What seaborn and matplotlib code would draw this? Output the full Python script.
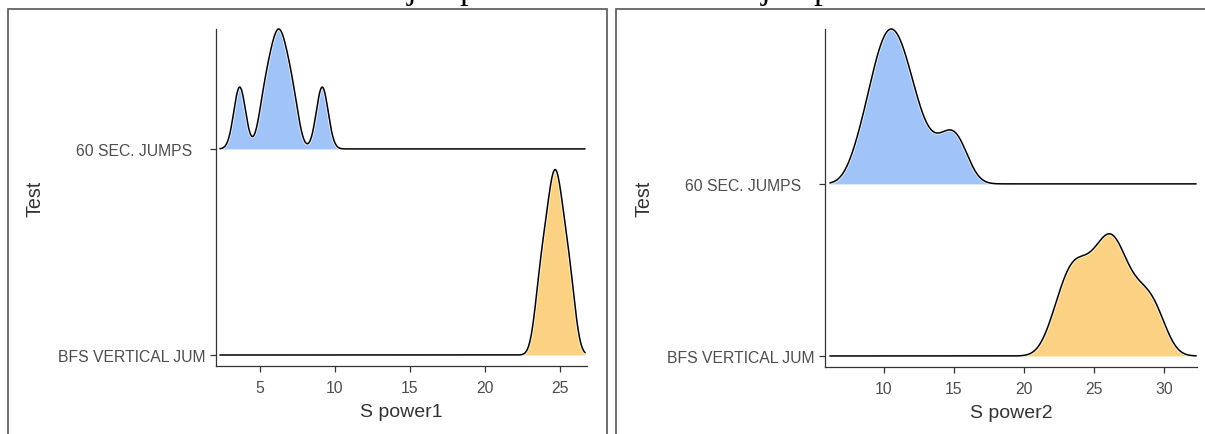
import numpy as np
import matplotlib
matplotlib.use("Agg")
import matplotlib.pyplot as plt
import seaborn as sns
from matplotlib.patches import Rectangle

# ---------------- data ----------------
categories = ["BFS VERTICAL JUM", "60 SEC. JUMPS   "]

power1_bfs = [23.62, 24.02, 24.36, 24.59, 24.76, 24.99, 25.33, 25.73]
power1_60sec = [3.55, 3.75, 5.20, 5.60, 5.90, 6.15, 6.35, 6.60, 6.90, 7.30, 9.05, 9.25]

power2_bfs = [22.07, 22.67, 23.04, 23.33, 23.60, 23.87, 24.17, 24.53, 25.13,
              24.98, 25.47, 25.76, 25.99, 26.20, 26.40, 26.61, 26.84, 27.13, 27.62,
              27.90, 28.45, 28.85, 29.25, 29.80]
power2_60sec = [8.12, 8.80, 9.19, 9.48, 9.74, 9.97, 10.19,
                10.41, 10.62, 10.83, 11.06, 11.30, 11.56, 11.86, 12.22, 12.70, 13.57,
                14.45, 15.00, 15.55]

x_ticks1 = [5, 10, 15, 20, 25]
x_ticks2 = [10, 15, 20, 25, 30]
x_labels = ["S power1", "S power2"]
y_label = "Test"
titles = ["Countermovement jump", "Vertical jump"]

# ---------------- style ----------------
sns.set_theme(style="ticks")
plt.rcParams["font.family"] = ["Liberation Sans", "DejaVu Sans"]

FILL = ["#FBD283", "#A0C3F8"]   # BFS, 60 SEC
AXC = "#333333"
TXT = "#4D4D4D"

W, H = 1205, 435
fig = plt.figure(figsize=(W / 100, H / 100), dpi=100)


def kde(values, grid, bw):
    v = np.asarray(values, dtype=float)
    z = (grid[:, None] - v[None, :]) / bw
    return np.exp(-0.5 * z ** 2).sum(axis=1) / (len(v) * bw * np.sqrt(2 * np.pi))


def ridge(ax, groups, bw, line_range, xlim, xticks, xlabel):
    grid = np.linspace(line_range[0], line_range[1], 1200)
    dens = [kde(g, grid, bw) for g in groups]
    gmax = max(d.max() for d in dens)
    heights = [d / gmax * 0.9 for d in dens]
    for i in [1, 0]:
        base = i + 1
        y = base + heights[i]
        z = 2 + 3 * (1 - i)
        ax.fill_between(grid, base, y, color=FILL[i], linewidth=0, zorder=z)
        sns.lineplot(x=grid, y=y, ax=ax, color="white", alpha=0.75, linewidth=2.4,
                     zorder=z + 0.5, clip_on=False)
        sns.lineplot(x=grid, y=y, ax=ax, color="black", linewidth=1.1,
                     zorder=z + 1, clip_on=False)
    top = max(1 + heights[0].max(), 2 + heights[1].max())
    e = (11 / 326) * (top - 1)
    ax.set_ylim(1 - e, top)
    ax.set_xlim(*xlim)
    ax.set_xticks(xticks)
    ax.set_xticklabels([str(t) for t in xticks])
    ax.set_yticks([1, 2])
    ax.set_yticklabels(categories)
    for s in ["top", "right"]:
        ax.spines[s].set_visible(False)
    for s in ["left", "bottom"]:
        ax.spines[s].set_color(AXC)
        ax.spines[s].set_linewidth(0.9)
    ax.tick_params(axis="both", length=4.5, width=0.9, color=AXC, labelcolor=TXT,
                   labelsize=11.3)
    ax.tick_params(axis="x", pad=5.5)
    ax.tick_params(axis="y", pad=3)
    ax.set_xlabel(xlabel, fontsize=14, color="#333333", labelpad=6)
    ax.set_ylabel(y_label, fontsize=14.2, color="#333333", labelpad=10)
    ax.set_facecolor("white")
    ax.grid(False)


ax1 = fig.add_axes([216 / W, (H - 367) / H, 371 / W, 337 / H])
ax2 = fig.add_axes([825 / W, (H - 368) / H, 372 / W, 338 / H])

ridge(ax1, [power1_bfs, power1_60sec], 0.38, (2.33, 26.67), (2.07, 26.8), x_ticks1, x_labels[0])
ridge(ax2, [power2_bfs, power2_60sec], 0.8, (6.14, 32.3), (5.79, 32.36), x_ticks2, x_labels[1])

# panel frames
for x0, x1 in [(8, 607), (616, 1240)]:
    fig.patches.append(Rectangle((x0 / W, -0.05), (x1 - x0) / W, (H - 10) / H + 0.05,
                                 transform=fig.transFigure, fill=False,
                                 edgecolor="#555555", linewidth=1.2, clip_on=False))

# headings above panels (only their descenders fall inside the picture)
fig.text(477 / W, 1 + 1.0 / H, titles[0], ha="right", va="baseline",
         family="Liberation Serif", fontsize=24.5, color="black")
fig.text(831 / W, 1 + 1.0 / H, titles[1], ha="right", va="baseline",
         family="Liberation Serif", fontsize=24.5, color="black")

fig.savefig("out.png", dpi=100, facecolor="white")
